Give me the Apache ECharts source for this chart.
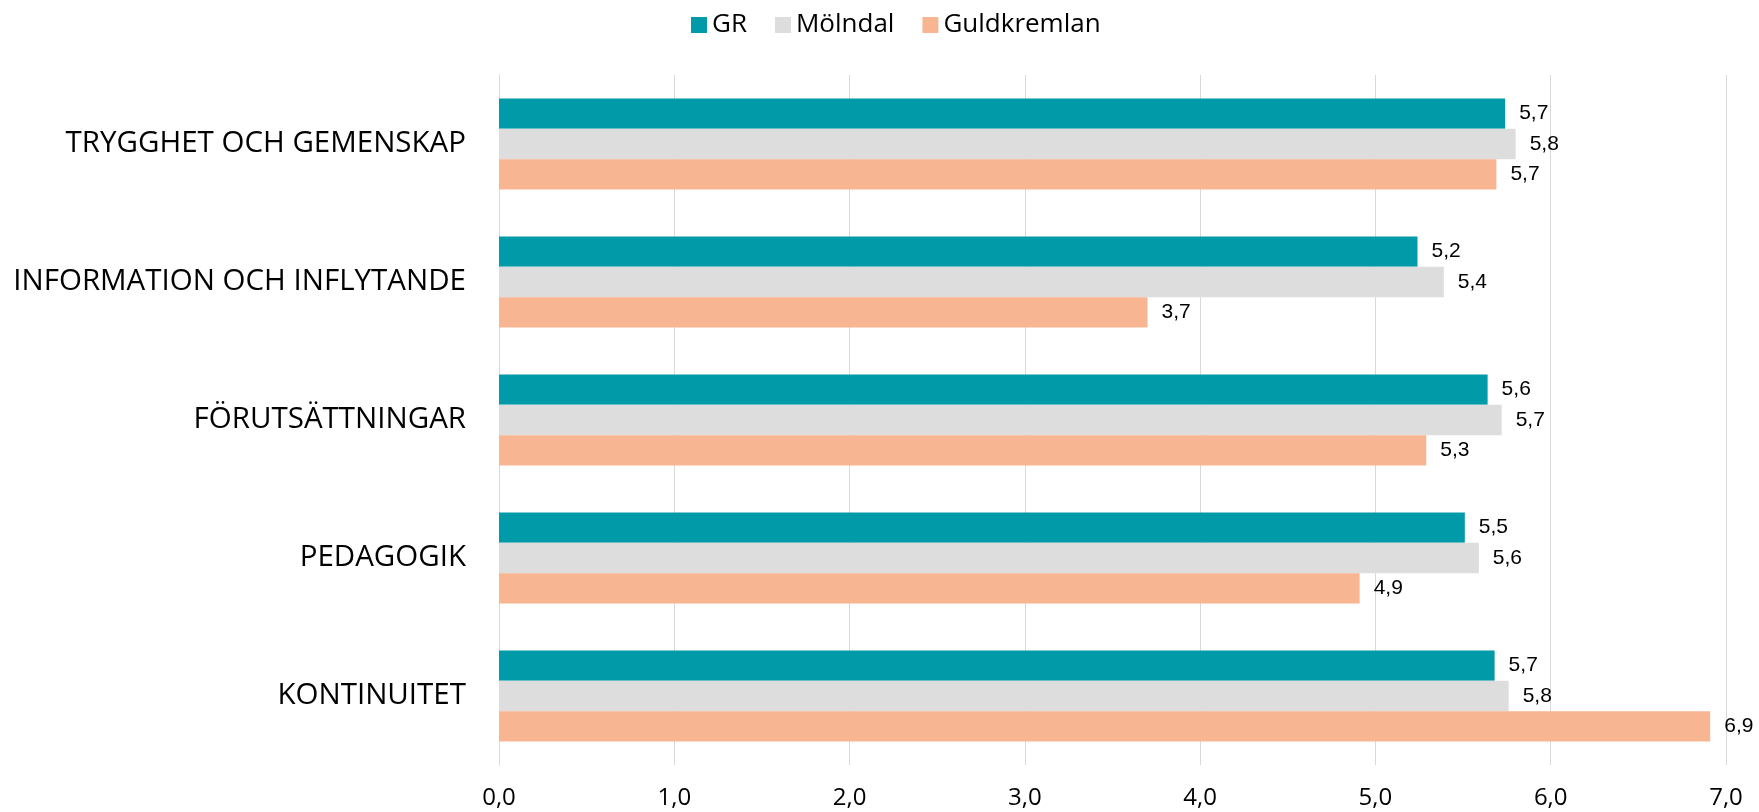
<!DOCTYPE html>
<html>
<head>
<meta charset="utf-8">
<script src="https://cdn.jsdelivr.net/npm/echarts@6/dist/echarts.min.js"></script>
<style>
  html, body { margin: 0; padding: 0; background: #fff; }
  #chart { width: 1759px; height: 812px; }
</style>
</head>
<body>
<div id="chart"></div>
<script>
const categories = ['TRYGGHET OCH GEMENSKAP', 'INFORMATION OCH INFLYTANDE', 'FÖRUTSÄTTNINGAR', 'PEDAGOGIK', 'KONTINUITET']
const seriesNames = ['GR', 'Mölndal', 'Guldkremlan']
const grValues = [5.74, 5.24, 5.64, 5.51, 5.68]
const molndalValues = [5.80, 5.39, 5.72, 5.59, 5.76]
const guldValues = [5.69, 3.70, 5.29, 4.91, 6.91]
const colors = ['#009aa9', '#dddddd', '#f8b592']

const chart = echarts.init(document.getElementById('chart'))

const fmt = v => v.toFixed(1).replace('.', ',')

function makeSeries(name, data, color) {
  return {
    name, type: 'bar', data,
    barGap: 0, barCategoryGap: '34%',
    itemStyle: { color },
    label: {
      show: true, position: 'right', distance: 14,
      formatter: p => fmt(p.value),
      fontFamily: 'Liberation Sans, Arial, sans-serif', fontSize: 21, color: '#000'
    }
  }
}

chart.setOption({
  animation: false,
  color: colors,
  legend: {
    data: seriesNames,
    left: 686, top: 7,
    itemWidth: 16, itemHeight: 16, itemGap: 28,
    icon: 'rect',
    textStyle: { fontFamily: 'Open Sans', fontSize: 26, color: '#000' }
  },
  grid: { left: 499, right: 33, top: 75, bottom: 47 },
  xAxis: {
    type: 'value', min: 0, max: 7, interval: 1,
    axisLine: { show: false },
    axisTick: { show: false },
    splitLine: { lineStyle: { color: '#d9d9d9', width: 1 } },
    axisLabel: {
      margin: 21, formatter: v => fmt(v),
      fontFamily: 'Open Sans', fontSize: 24, color: '#000'
    }
  },
  yAxis: {
    type: 'category', data: categories, inverse: true,
    axisLine: { lineStyle: { color: '#d9d9d9', width: 1 } },
    axisTick: { length: 10, lineStyle: { color: '#d9d9d9' } },
    axisLabel: { margin: 33, fontFamily: 'Open Sans', fontSize: 29.5, color: '#000' }
  },
  series: [
    makeSeries(seriesNames[0], grValues, colors[0]),
    makeSeries(seriesNames[1], molndalValues, colors[1]),
    makeSeries(seriesNames[2], guldValues, colors[2])
  ]
})
</script>
</body>
</html>
